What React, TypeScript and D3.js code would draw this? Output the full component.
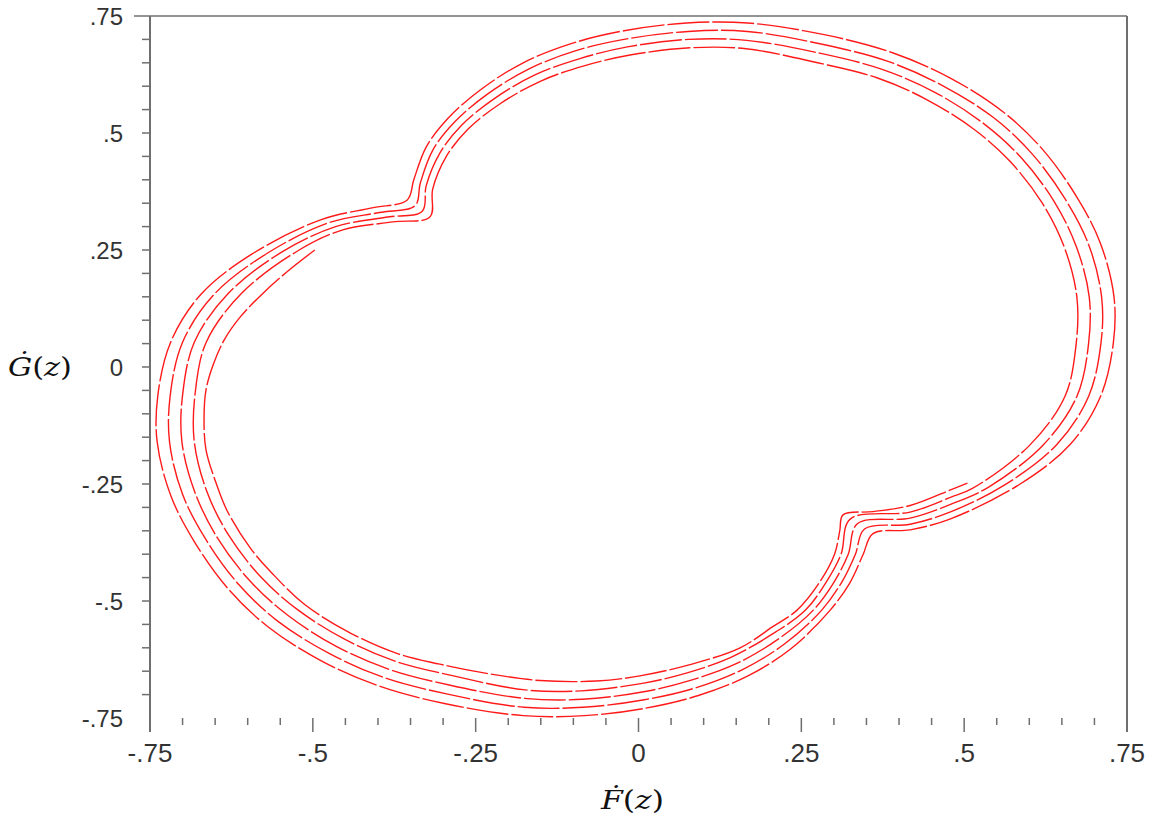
import React from "react";
import * as d3 from "d3";

type P = [number, number];

// Axis ticks
const majorTicks = [-0.75, -0.5, -0.25, 0, 0.25, 0.5, 0.75];
const xTickLabels = ["-.75", "-.5", "-.25", "0", ".25", ".5", ".75"];
const yTickLabels = ["-.75", "-.5", "-.25", "0", ".25", ".5", ".75"];
const minorTicks = d3.range(-15, 16).map((i) => i * 0.05);

// Curve 1 (outermost): upper-right lobe and lower-left lobe
const c1Upper: P[] = [
  [-0.355, 0.357], [-0.345, 0.4], [-0.326, 0.47], [-0.292, 0.532], [-0.243, 0.592],
  [-0.177, 0.65], [-0.101, 0.692], [-0.02, 0.719], [0.074, 0.735], [0.168, 0.735],
  [0.289, 0.709], [0.391, 0.671], [0.478, 0.618], [0.56, 0.545], [0.621, 0.464],
  [0.673, 0.363], [0.709, 0.265], [0.73, 0.15], [0.729, 0.051], [0.709, -0.064],
  [0.663, -0.165], [0.586, -0.25], [0.478, -0.325], [0.417, -0.348], [0.36, -0.356],
];
const c1Lower: P[] = [
  [0.345, -0.4], [0.325, -0.46], [0.294, -0.52], [0.234, -0.602], [0.168, -0.66],
  [0.092, -0.702], [0.011, -0.729], [-0.083, -0.745], [-0.177, -0.745], [-0.298, -0.719],
  [-0.4, -0.681], [-0.487, -0.628], [-0.569, -0.555], [-0.63, -0.474], [-0.682, -0.373],
  [-0.718, -0.275], [-0.739, -0.16], [-0.738, -0.061], [-0.718, 0.054], [-0.672, 0.155],
  [-0.595, 0.24], [-0.487, 0.315], [-0.409, 0.34],
];

// Curve 2
const c2Upper: P[] = [
  [-0.343, 0.345], [-0.335, 0.393], [-0.316, 0.463], [-0.282, 0.524], [-0.233, 0.582],
  [-0.168, 0.637], [-0.096, 0.676], [-0.018, 0.701], [0.076, 0.717], [0.167, 0.717],
  [0.284, 0.689], [0.383, 0.653], [0.466, 0.602], [0.545, 0.533], [0.604, 0.456],
  [0.655, 0.359], [0.691, 0.262], [0.711, 0.15], [0.71, 0.051], [0.691, -0.063],
  [0.642, -0.166], [0.561, -0.253], [0.48, -0.309], [0.417, -0.336], [0.347, -0.346],
];
const c2Lower: P[] = [
  [0.333, -0.4], [0.312, -0.46], [0.281, -0.52], [0.224, -0.592], [0.159, -0.647],
  [0.087, -0.686], [0.009, -0.711], [-0.085, -0.727], [-0.176, -0.727], [-0.293, -0.699],
  [-0.392, -0.663], [-0.475, -0.612], [-0.554, -0.543], [-0.613, -0.466], [-0.664, -0.369],
  [-0.7, -0.272], [-0.72, -0.16], [-0.719, -0.061], [-0.7, 0.053], [-0.651, 0.156],
  [-0.57, 0.243], [-0.476, 0.308], [-0.398, 0.33],
];

// Curve 3
const c3Upper: P[] = [
  [-0.332, 0.333], [-0.326, 0.387], [-0.305, 0.457], [-0.272, 0.516], [-0.223, 0.572],
  [-0.159, 0.624], [-0.09, 0.659], [-0.017, 0.684], [0.077, 0.7], [0.166, 0.698],
  [0.28, 0.67], [0.374, 0.636], [0.455, 0.587], [0.53, 0.52], [0.587, 0.448],
  [0.638, 0.354], [0.672, 0.258], [0.692, 0.15], [0.691, 0.05], [0.673, -0.063],
  [0.621, -0.167], [0.537, -0.257], [0.48, -0.293], [0.417, -0.323], [0.336, -0.335],
];
const c3Lower: P[] = [
  [0.322, -0.4], [0.3, -0.46], [0.268, -0.52], [0.214, -0.582], [0.15, -0.634],
  [0.081, -0.669], [0.008, -0.694], [-0.086, -0.71], [-0.175, -0.708], [-0.289, -0.68],
  [-0.383, -0.646], [-0.464, -0.597], [-0.539, -0.53], [-0.596, -0.458], [-0.647, -0.364],
  [-0.681, -0.268], [-0.701, -0.16], [-0.7, -0.06], [-0.682, 0.053], [-0.63, 0.157],
  [-0.546, 0.247], [-0.465, 0.3], [-0.388, 0.32],
];

// Curve 4
const c4Upper: P[] = [
  [-0.32, 0.321], [-0.316, 0.38], [-0.295, 0.45], [-0.262, 0.508], [-0.213, 0.562],
  [-0.15, 0.611], [-0.085, 0.643], [-0.015, 0.666], [0.079, 0.682], [0.165, 0.68],
  [0.275, 0.65], [0.366, 0.618], [0.443, 0.571], [0.515, 0.508], [0.57, 0.44],
  [0.62, 0.35], [0.654, 0.255], [0.673, 0.15], [0.672, 0.05], [0.655, -0.062],
  [0.6, -0.168], [0.512, -0.26], [0.48, -0.278], [0.417, -0.31], [0.325, -0.325],
];
const c4Lower: P[] = [
  [0.311, -0.4], [0.288, -0.46], [0.256, -0.52], [0.204, -0.572], [0.141, -0.621],
  [0.076, -0.653], [0.006, -0.676], [-0.088, -0.692], [-0.174, -0.69], [-0.284, -0.66],
  [-0.375, -0.628], [-0.452, -0.581], [-0.524, -0.518], [-0.579, -0.45], [-0.629, -0.36],
  [-0.663, -0.265], [-0.682, -0.16], [-0.681, -0.06], [-0.664, 0.052], [-0.609, 0.158],
  [-0.521, 0.25], [-0.454, 0.293], [-0.377, 0.31],
];

// Curve 5: open innermost arc through the lower-left lobe and the lower-right notch
const c5Arc: P[] = [
  [-0.497, 0.25], [-0.54, 0.203], [-0.58, 0.153], [-0.612, 0.106], [-0.636, 0.058],
  [-0.653, 0.005], [-0.664, -0.049], [-0.667, -0.107], [-0.664, -0.177], [-0.648, -0.25],
  [-0.632, -0.306], [-0.597, -0.385], [-0.563, -0.44], [-0.513, -0.507], [-0.443, -0.568],
  [-0.369, -0.613], [-0.305, -0.635], [-0.228, -0.656], [-0.151, -0.67], [-0.064, -0.671],
  [0.002, -0.66], [0.079, -0.636], [0.156, -0.6], [0.205, -0.556], [0.243, -0.52],
  [0.278, -0.46], [0.301, -0.4], [0.309, -0.35], [0.314, -0.316], [0.36, -0.309],
  [0.417, -0.296], [0.48, -0.262], [0.505, -0.248],
];

const closedCurves: P[][] = [
  [...c1Upper, ...c1Lower],
  [...c2Upper, ...c2Lower],
  [...c3Upper, ...c3Lower],
  [...c4Upper, ...c4Lower],
];

const W = 1163;
const H = 827;

export default function App() {
  const x = d3.scaleLinear().domain([-0.75, 0.75]).range([150, 1127]);
  const y = d3.scaleLinear().domain([-0.75, 0.75]).range([718, 16]);

  const closedLine = d3
    .line<P>()
    .x((d) => x(d[0]))
    .y((d) => y(d[1]))
    .curve(d3.curveCatmullRomClosed.alpha(0.5));
  const openLine = d3
    .line<P>()
    .x((d) => x(d[0]))
    .y((d) => y(d[1]))
    .curve(d3.curveCatmullRom.alpha(0.5));

  const axisColor = "#6f6f6f";
  const labelColor = "#333";
  const isMajor = (v: number) => majorTicks.some((m) => Math.abs(m - v) < 1e-6);

  return (
    <svg
      width={W}
      height={H}
      style={{ position: "absolute", left: 0, top: 0, background: "#fff" }}
    >
      {/* frame: left, top, right */}
      <line x1={x(-0.75)} x2={x(-0.75)} y1={y(0.75)} y2={732} stroke={axisColor} strokeWidth={2} />
      <line x1={x(0.75)} x2={x(0.75)} y1={y(0.75)} y2={732} stroke={axisColor} strokeWidth={2} />
      <line x1={134} x2={x(0.75)} y1={y(0.75)} y2={y(0.75)} stroke={axisColor} strokeWidth={1.6} />

      {/* y ticks */}
      {minorTicks
        .filter((v) => v > -0.749 && v < 0.749)
        .map((v, i) => (
          <line key={"yt" + i} x1={142} x2={x(-0.75)} y1={y(v)} y2={y(v)} stroke={axisColor} strokeWidth={1.5} />
        ))}
      {/* x ticks */}
      {minorTicks
        .filter((v) => v > -0.749 && v < 0.749)
        .map((v, i) => (
          <line
            key={"xt" + i}
            x1={x(v)}
            x2={x(v)}
            y1={718}
            y2={isMajor(v) ? 732 : 725}
            stroke={axisColor}
            strokeWidth={1.5}
          />
        ))}

      {/* y tick labels */}
      {majorTicks.map((v, i) => (
        <text
          key={"yl" + i}
          x={123}
          y={y(v)}
          textAnchor="end"
          dominantBaseline="central"
          fontFamily="'Liberation Sans', Arial, sans-serif"
          fontSize={24}
          fill={labelColor}
        >
          {yTickLabels[i]}
        </text>
      ))}
      {/* x tick labels */}
      {majorTicks.map((v, i) => (
        <text
          key={"xl" + i}
          x={x(v)}
          y={753}
          textAnchor="middle"
          dominantBaseline="central"
          fontFamily="'Liberation Sans', Arial, sans-serif"
          fontSize={26}
          fill={labelColor}
        >
          {xTickLabels[i]}
        </text>
      ))}

      {/* axis titles */}
      <text
        x={8}
        y={367}
        dominantBaseline="central"
        fontFamily="'DejaVu Serif', serif"
        fontSize={26}
        fill="#111"
        textLength={64}
        lengthAdjust="spacingAndGlyphs"
      >
        <tspan fontStyle="italic">Ġ</tspan>(<tspan fontStyle="italic">z</tspan>)
      </text>
      <text
        x={601}
        y={800}
        dominantBaseline="central"
        fontFamily="'DejaVu Serif', serif"
        fontSize={26}
        fill="#111"
        textLength={63}
        lengthAdjust="spacingAndGlyphs"
      >
        <tspan fontStyle="italic">Ḟ</tspan>(<tspan fontStyle="italic">z</tspan>)
      </text>

      {/* curves */}
      <g fill="none" stroke="#ff1a1a" strokeWidth={1.4} strokeDasharray="42 3">
        {closedCurves.map((c, i) => (
          <path key={"c" + i} d={closedLine(c) || ""} />
        ))}
        <path d={openLine(c5Arc) || ""} />
      </g>
    </svg>
  );
}
